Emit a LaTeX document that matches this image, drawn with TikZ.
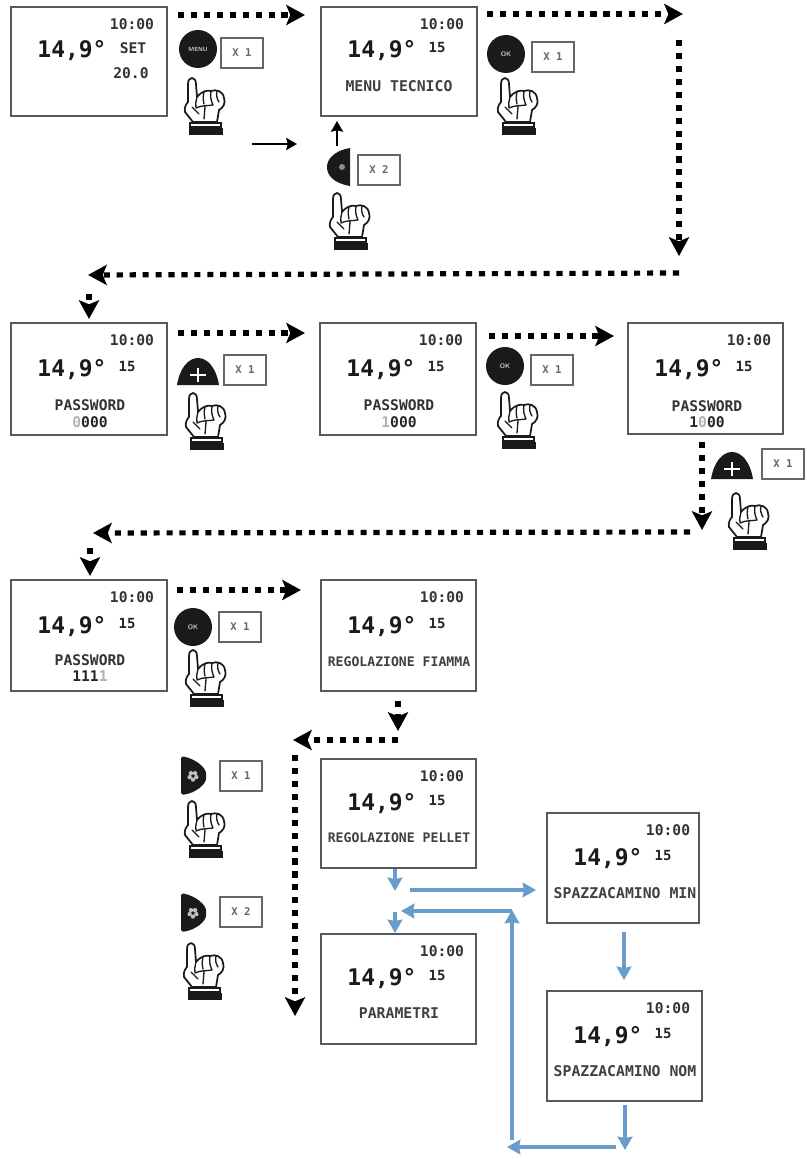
\documentclass[tikz,border=0pt]{standalone}
\usepackage{fontspec}
\setmonofont{DejaVu Sans Mono}
\usetikzlibrary{arrows.meta,calc}
\definecolor{flow}{HTML}{6A9CCB}
\definecolor{ink}{HTML}{1A1A1A}
\tikzset{
  display/.style={draw=black!65,line width=1.3pt,fill=white,anchor=north west,inner sep=0pt,outer sep=0pt},
  timetxt/.style={inner sep=0pt,font=\ttfamily\bfseries\fontsize{11}{11}\selectfont,text=black!80},
  temptxt/.style={inner sep=0pt,font=\ttfamily\bfseries\fontsize{17.2}{17.2}\selectfont,text=ink},
  smalltxt/.style={inner sep=0pt,font=\ttfamily\bfseries\fontsize{11}{11}\selectfont,text=black!80},
  numtxt/.style={inner sep=0pt,font=\ttfamily\bfseries\fontsize{10.5}{10.5}\selectfont,text=black!85},
  labeltxt/.style={inner sep=0pt,font=\ttfamily\bfseries\fontsize{11.1}{11.1}\selectfont,text=black!75},
  longtxt/.style={inner sep=0pt,font=\ttfamily\bfseries\fontsize{9.85}{9.85}\selectfont,text=black!75},
  pwtxt/.style={inner sep=0pt,font=\ttfamily\bfseries\fontsize{11}{11}\selectfont,text=black!85},
  timesbox/.style={draw=black!60,line width=.8pt,fill=white,anchor=north west,inner sep=0pt,outer sep=0pt,minimum width=31.5pt,minimum height=22.5pt,font=\ttfamily\bfseries\fontsize{8}{8}\selectfont,text=black!60},
  dotarrow/.style={line width=3.9pt,dash pattern=on 4.6pt off 5.1pt,-{Stealth[length=14pt,width=15pt,inset=3pt]}},
  blackarrow/.style={line width=1.9pt,-{Stealth[length=8pt,width=9pt,inset=1pt]}},
  bluearrow/.style={draw=flow,line width=2.6pt,-{Stealth[length=10pt,width=11pt,inset=1pt]}},
  btn/.style={fill=ink,draw=none},
  hand/.pic={
    \path[draw=ink,line width=1.3pt,fill=white,line join=round]
      (4,25) -- (4,7) .. controls (4,-1) and (12,-1) .. (12,7) -- (13,20)
      .. controls (18,14) and (23,13) .. (27,14)
      .. controls (32,12) and (39,14) .. (40,21)
      .. controls (42,26) and (39,31) .. (35,33)
      -- (33,45) -- (9,45) -- (1,35) .. controls (0,31) and (2,27) .. (4,25) -- cycle;
    \draw[ink,line width=1pt,line cap=round]
      (13,20) .. controls (12,25) and (11,28) .. (12,31)
      (20,15) .. controls (19,19) and (19,23) .. (20,27)
      (27,14) .. controls (26,19) and (27,24) .. (29,28)
      (33,14) .. controls (32,18) and (33,22) .. (35,25)
      (12,31) .. controls (18,28) and (24,29) .. (29,28)
      (21,30) -- (20,42) (8,30) -- (15,37);
    \draw[ink,line width=1pt,fill=white] (6,46) rectangle (37,50);
    \fill[ink] (5,51) rectangle (39,58);
  },
  roundbtn/.pic={
    \fill[btn] (0,0) circle (19);
    \node[inner sep=0pt,text=white!80!black,font=\sffamily\bfseries\fontsize{#1}{#1}\selectfont] at (0,0) {\tikzpictext};
  },
  dome/.pic={
    \fill[btn] (0,27) .. controls (3,9) and (12,0) .. (21,0) .. controls (30,0) and (39,9) .. (42,27) -- cycle;
    \draw[white,line width=2pt] (13,17) -- (29,17) (21,10) -- (21,24);
  },
  halfleft/.pic={
    \fill[btn] (23,0) .. controls (6,3) and (0,12) .. (0,19) .. controls (0,27) and (6,35) .. (23,38) -- cycle;
    \fill[black!45] (15,19) circle (3);
  },
  halfright/.pic={
    \fill[btn,rounded corners=2pt] (0,0) .. controls (15,3) and (25,12) .. (25,20) .. controls (25,28) and (15,37) .. (0,39) -- cycle;
    \foreach \a in {90,162,234,306,18}{\fill[white!75!black] (12,20) ++(\a:3.5) circle (2.2);}
    \fill[ink] (12,20) circle (1.3);
  }
}
\newcommand{\disp}[5]{%
  \node[display,minimum width=#4*0.75pt,minimum height=#5*0.75pt] (#1) at (#2,#3) {};
  \node[timetxt] (#1time) at ($(#1.north west)+(121,17)$) {10:00};
}
\newcommand{\tempval}[2]{%
  \node[temptxt] (#1temp) at ($(#1.north west)+(61,#2+2)$) {14,9°};
  \node[numtxt] (#1num) at ($(#1.north west)+(116,#2-2)$) {15};
}
\begin{document}
\begin{tikzpicture}[x=0.75pt,y=-0.75pt]
\useasboundingbox[fill=white] (0,0) rectangle (806,1159);

% displays
\disp{dA}{11}{7}{156}{109}
\node[temptxt] (dAtemp) at ($(dA.north west)+(61,44)$) {14,9°};
\node[smalltxt] (dAset) at ($(dA.north west)+(122,41)$) {SET};
\node[smalltxt] (dAval) at ($(dA.north west)+(120,66)$) {20.0};

\disp{dB}{321}{7}{156}{109}
\tempval{dB}{42}
\node[labeltxt] (dBlab) at ($(dB.north west)+(78,79)$) {MENU TECNICO};

\disp{dC}{11}{323}{156}{112}
\tempval{dC}{45}
\node[smalltxt] (dCl) at ($(dC.north west)+(79,82)$) {PASSWORD};
\node[pwtxt] (dCp) at ($(dC.north west)+(79,99)$) {\textcolor{black!30}{0}000};

\disp{dD}{320}{323}{156}{112}
\tempval{dD}{45}
\node[smalltxt] (dDl) at ($(dD.north west)+(79,82)$) {PASSWORD};
\node[pwtxt] (dDp) at ($(dD.north west)+(79,99)$) {\textcolor{black!30}{1}000};

\disp{dE}{628}{323}{155}{111}
\tempval{dE}{45}
\node[smalltxt] (dEl) at ($(dE.north west)+(79,83)$) {PASSWORD};
\node[pwtxt] (dEp) at ($(dE.north west)+(79,99)$) {1\textcolor{black!30}{0}00};

\disp{dF}{11}{580}{156}{111}
\tempval{dF}{45}
\node[smalltxt] (dFl) at ($(dF.north west)+(79,80)$) {PASSWORD};
\node[pwtxt] (dFp) at ($(dF.north west)+(79,96)$) {111\textcolor{black!30}{1}};

\disp{dG}{321}{580}{155}{111}
\tempval{dG}{45}
\node[longtxt] (dGl) at ($(dG.north west)+(78,82)$) {REGOLAZIONE FIAMMA};

\disp{dH}{321}{759}{155}{109}
\tempval{dH}{43}
\node[longtxt] (dHl) at ($(dH.north west)+(78,79)$) {REGOLAZIONE PELLET};

\disp{dI}{547}{813}{152}{110}
\tempval{dI}{44}
\node[labeltxt] (dIl) at ($(dI.north west)+(78,80)$) {SPAZZACAMINO MIN};

\disp{dJ}{321}{934}{155}{110}
\tempval{dJ}{43}
\node[labeltxt] (dJl) at ($(dJ.north west)+(78,79)$) {PARAMETRI};

\disp{dK}{547}{991}{155}{110}
\tempval{dK}{44}
\node[labeltxt] (dKl) at ($(dK.north west)+(78,80)$) {SPAZZACAMINO NOM};

% buttons, count boxes, hands
\pic[pic text=MENU] at (198,49) {roundbtn=4.5};
\node[timesbox] (xa) at (221,38) {X 1};
\pic at (184,77) {hand};

\pic[pic text=OK] at (506,54) {roundbtn=5};
\node[timesbox] (xb) at (532,42) {X 1};
\pic at (497,77) {hand};

\pic at (327,148) {halfleft};
\node[timesbox] (xc) at (358,155) {X 2};
\pic at (329,192) {hand};

\pic at (177,358) {dome};
\node[timesbox] (xd) at (224,355) {X 1};
\pic at (185,392) {hand};

\pic[pic text=OK] at (505,366) {roundbtn=5};
\node[timesbox] (xe) at (531,355) {X 1};
\pic at (497,391) {hand};

\pic at (711,452) {dome};
\node[timesbox] (xf) at (762,449) {X 1};
\pic at (728,492) {hand};

\pic[pic text=OK] at (193,627) {roundbtn=5};
\node[timesbox] (xg) at (219,612) {X 1};
\pic at (185,649) {hand};

\pic at (181,756) {halfright};
\node[timesbox] (xh) at (220,761) {X 1};
\pic at (184,800) {hand};

\pic at (181,893) {halfright};
\node[timesbox] (xi) at (220,897) {X 2};
\pic at (183,942) {hand};

% dotted connectors
\draw[dotarrow] ($(dA.north east)+(11,8)$) -- ($(dB.north west)+(-16,8)$);
\draw[dotarrow] ($(dB.north east)+(10,7)$) -- ($(dB.north east)+(206,7)$);
\coordinate (turnA) at (679,273);
\draw[dotarrow] (679,40) -- (679,256);
\draw[dotarrow] (turnA) -- (88,275);
\draw[dotarrow] (89,294) -- ($(dC.north west)+(78,-4)$);
\draw[dotarrow] ($(dC.north east)+(11,10)$) -- ($(dD.north west)+(-15,10)$);
\draw[dotarrow] ($(dD.north east)+(13,13)$) -- ($(dE.north west)+(-14,13)$);
\draw[dotarrow] ($(dE.south west)+(74,8)$) -- (702,530);
\coordinate (turnB) at (690,532);
\draw[dotarrow] (turnB) -- (93,533);
\draw[dotarrow] (90,548) -- ($(dF.north west)+(79,-4)$);
\draw[dotarrow] ($(dF.north east)+(10,10)$) -- ($(dG.north west)+(-20,10)$);
\draw[dotarrow] ($(dG.south west)+(77,10)$) -- ($(dH.north west)+(77,-28)$);
\coordinate (turnC) at (398,740);
\draw[dotarrow] (turnC) -- (293,740);
\draw[dotarrow] (295,755) -- (295,1016);

% solid black connectors
\coordinate (solidA) at (252,144);
\draw[blackarrow] (solidA) -- (297,144);
\draw[blackarrow] ($(dB.south west)+(16,30)$) -- ($(dB.south west)+(16,5)$);

% blue connectors
\draw[bluearrow] ($(dH.south west)+(74,1)$) -- ($(dH.south west)+(74,23)$);
\draw[bluearrow] ($(dH.south east)+(-66,22)$) -- ($(dI.south west)+(-11,-33)$);
\coordinate (backC) at (512,911);
\draw[bluearrow] (backC) -- (401,911);
\draw[bluearrow] ($(dJ.north west)+(74,-22)$) -- ($(dJ.north west)+(74,-1)$);
\draw[bluearrow] ($(dI.south west)+(77,9)$) -- ($(dK.north west)+(77,-11)$);
\draw[bluearrow] ($(dK.south west)+(78,4)$) -- ($(dK.south west)+(78,49)$);
\coordinate (backA) at (616,1147);
\coordinate (backB) at (512,1140);
\draw[bluearrow] (backA) -- (507,1147);
\draw[bluearrow] (backB) -- (512,910);
\end{tikzpicture}
\end{document}
